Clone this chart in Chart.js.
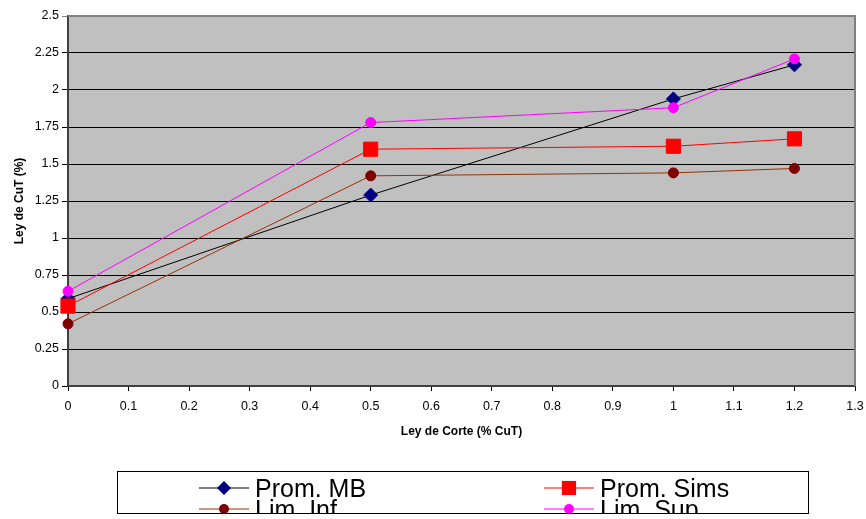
<!DOCTYPE html>
<html>
<head>
<meta charset="utf-8">
<script src="https://cdn.jsdelivr.net/npm/chart.js@4/dist/chart.umd.min.js"></script>
<style>
    html, body { margin: 0; padding: 0; background: #fff; }
    #wrap { width: 866px; height: 519px; }
</style>
</head>
<body>
<div id="wrap"><canvas id="cut-chart" width="866" height="519"></canvas></div>
<script>
// Cut-off grade (x) vs mean CuT grade (y)
const cutoffs = [0, 0.5, 1, 1.2];
const promMB = [0.59, 1.29, 1.94, 2.17];
const promSims = [0.54, 1.60, 1.62, 1.67];
const limInf = [0.42, 1.42, 1.44, 1.47];
const limSup = [0.64, 1.78, 1.88, 2.21];

const seriesNames = ["Prom. MB", "Prom. Sims", "Lim. Inf", "Lim. Sup"];
const xTitle = "Ley de Corte (% CuT)";
const yTitle = "Ley de CuT (%)";

const FONT = "'Liberation Sans', Arial, sans-serif";

function toPoints(values) {
    return cutoffs.map((x, i) => ({ x: x, y: values[i] }));
}

// grey plot area + frame on top/right
const plotArea = {
    id: "plotArea",
    beforeDraw(chart) {
        const { ctx, chartArea: a } = chart;
        ctx.save();
        ctx.fillStyle = "#fff";
        ctx.fillRect(0, 0, chart.width, chart.height);
        ctx.fillStyle = "#c0c0c0";
        ctx.fillRect(a.left, a.top, a.right - a.left, a.bottom - a.top);
        ctx.restore();
    },
    beforeDatasetsDraw(chart) {
        const { ctx, chartArea: a } = chart;
        ctx.save();
        ctx.strokeStyle = "#808080";
        ctx.lineWidth = 2;
        ctx.beginPath();
        ctx.moveTo(a.left, a.top);
        ctx.lineTo(a.right, a.top);
        ctx.lineTo(a.right, a.bottom);
        ctx.stroke();
        ctx.restore();
    }
};

function drawMarker(ctx, style, r, x, y) {
    if (style === "rectRot") {
        ctx.moveTo(x - r, y);
        ctx.lineTo(x, y - r);
        ctx.lineTo(x + r, y);
        ctx.lineTo(x, y + r);
        ctx.closePath();
    } else if (style === "rect") {
        const s = r * Math.SQRT1_2;
        ctx.rect(x - s, y - s, 2 * s, 2 * s);
    } else {
        ctx.arc(x, y, r, 0, Math.PI * 2);
    }
}

// boxed legend, two columns, clipped at the bottom edge
const boxLegend = {
    id: "boxLegend",
    afterDraw(chart) {
        const { ctx } = chart;
        const box = { x: 117, y: 471, w: 692, h: 43 };
        ctx.save();
        ctx.fillStyle = "#fff";
        ctx.fillRect(box.x, box.y, box.w, box.h);
        ctx.beginPath();
        ctx.rect(box.x + 1, box.y + 1, box.w - 2, box.h - 2);
        ctx.clip();

        const cols = [199, 544];
        const rows = [488, 509];
        chart.data.datasets.forEach((ds, i) => {
            const x0 = cols[i % 2];
            const y = rows[Math.floor(i / 2)];
            ctx.strokeStyle = ds.borderColor;
            ctx.lineWidth = 1.2;
            ctx.beginPath();
            ctx.moveTo(x0, y);
            ctx.lineTo(x0 + 50, y);
            ctx.stroke();
            ctx.fillStyle = ds.pointBackgroundColor;
            ctx.beginPath();
            drawMarker(ctx, ds.pointStyle, ds.pointRadius, x0 + 25, y);
            ctx.fill();
            ctx.fillStyle = "#000";
            ctx.font = "25px " + FONT;
            ctx.textBaseline = "alphabetic";
            ctx.fillText(ds.label, x0 + 56, y + 9);
        });
        ctx.restore();

        ctx.save();
        ctx.strokeStyle = "#000";
        ctx.lineWidth = 1;
        ctx.strokeRect(box.x + 0.5, box.y + 0.5, box.w - 1, box.h - 1);
        ctx.restore();
    }
};

const ctx = document.getElementById("cut-chart");

new Chart(ctx, {
    type: "line",
    data: {
        datasets: [
            {
                label: seriesNames[0],
                data: toPoints(promMB),
                borderColor: "#000000",
                borderWidth: 1,
                pointStyle: "rectRot",
                pointRadius: 7,
                pointBackgroundColor: "#000080",
                pointBorderColor: "#000080",
                clip: false,
                order: 4
            },
            {
                label: seriesNames[1],
                data: toPoints(promSims),
                borderColor: "#ff0000",
                borderWidth: 1,
                pointStyle: "rect",
                pointRadius: 10,
                pointBackgroundColor: "#ff0000",
                pointBorderColor: "#ff0000",
                clip: false,
                order: 3
            },
            {
                label: seriesNames[2],
                data: toPoints(limInf),
                borderColor: "#993300",
                borderWidth: 1,
                pointStyle: "circle",
                pointRadius: 5,
                pointBackgroundColor: "#800000",
                pointBorderColor: "#800000",
                clip: false,
                order: 2
            },
            {
                label: seriesNames[3],
                data: toPoints(limSup),
                borderColor: "#ff00ff",
                borderWidth: 1,
                pointStyle: "circle",
                pointRadius: 5,
                pointBackgroundColor: "#ff00ff",
                pointBorderColor: "#ff00ff",
                clip: false,
                order: 1
            }
        ]
    },
    options: {
        responsive: false,
        animation: false,
        layout: {
            padding: { top: 16, right: 11, bottom: 80, left: 0 }
        },
        plugins: {
            legend: { display: false },
            tooltip: { enabled: false }
        },
        elements: {
            line: { tension: 0 },
            point: { hoverRadius: 5 }
        },
        scales: {
            x: {
                type: "linear",
                min: 0,
                max: 1.3,
                afterFit(scale) {
                    scale.height = 53;
                    scale.paddingLeft = 0;
                    scale.paddingRight = 0;
                },
                border: { color: "#404040", width: 2 },
                grid: {
                    drawOnChartArea: false,
                    tickLength: 5,
                    color: "#000"
                },
                ticks: {
                    stepSize: 0.1,
                    autoSkip: false,
                    maxRotation: 0,
                    padding: 8,
                    color: "#000",
                    font: { family: FONT, size: 12.5 },
                    callback: (v) => +v.toFixed(1)
                },
                title: {
                    display: true,
                    text: xTitle,
                    color: "#000",
                    padding: { top: 0, bottom: 0 },
                    font: { family: FONT, size: 12, weight: "bold" }
                }
            },
            y: {
                min: 0,
                max: 2.5,
                afterFit(scale) {
                    scale.width = 68;
                    scale.paddingTop = 0;
                    scale.paddingBottom = 0;
                },
                border: { color: "#404040", width: 2 },
                grid: {
                    tickLength: 6,
                    color: (c) => (c.tick && c.tick.value === 2.5 ? "#808080" : "#000"),
                    lineWidth: 1
                },
                ticks: {
                    stepSize: 0.25,
                    padding: 3,
                    color: "#000",
                    font: { family: FONT, size: 12.5 },
                    callback: (v) => +v.toFixed(2)
                },
                title: {
                    display: true,
                    text: yTitle,
                    color: "#000",
                    padding: { top: 12, bottom: 0 },
                    font: { family: FONT, size: 12, weight: "bold" }
                }
            }
        }
    },
    plugins: [plotArea, boxLegend]
});
</script>
</body>
</html>
